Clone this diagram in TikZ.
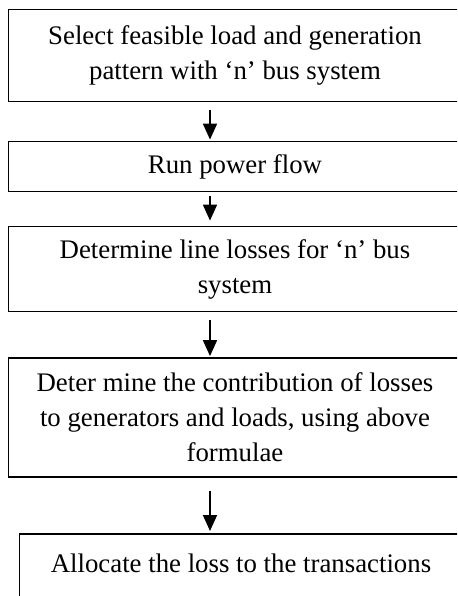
\documentclass[tikz,border=0pt]{standalone}
\usepackage{fontspec}
\setmainfont{Liberation Serif}
\usetikzlibrary{arrows.meta}

\begin{document}
\begin{tikzpicture}[x=0.5pt, y=-0.5pt,
    box/.style={align=center, inner sep=0pt,
        font=\fontsize{13.4}{17.5}\selectfont},
    frame/.style={draw=black, line width=0.8pt},
    arrow/.style={-{Triangle[width=7pt,length=8pt]}, line width=0.9pt}]
    \useasboundingbox (0,0) rectangle (457,596);
    \clip (0,0) rectangle (457,596);
    \coordinate (axis) at (210,0);

    \node[
        box,
        minimum width=226pt,
        minimum height=45.5pt]
        (select) at (235,55.5) {Select feasible load and generation\\pattern with ‘n’ bus system};
    \node[
        box,
        minimum width=226pt,
        minimum height=24.5pt]
        (power) at (235,166.5) {Run power flow};
    \node[
        box,
        minimum width=226pt,
        minimum height=42pt]
        (losses) at (235,269) {Determine line losses for ‘n’ bus\\system};
    \node[
        box,
        minimum width=226pt,
        minimum height=59pt]
        (contrib) at (235,417.5) {Deter mine the contribution of losses\\to generators and loads, using above\\formulae};
    \node[
        box,
        anchor=north,
        minimum width=221pt,
        minimum height=52pt]
        (alloc) at (241,534) {Allocate the loss to the transactions\\\strut};

    % frames run on past the right edge
    \foreach \n in {select,power,losses,contrib,alloc}
        \draw[frame] (\n.north west) rectangle ([xshift=12pt]\n.south east);

    \draw[arrow, shorten <=4.5pt, shorten >=1pt] (select.south -| axis) -- (power.north -| axis);
    \draw[arrow, shorten <=2.5pt, shorten >=3pt] (power.south -| axis) -- (losses.north -| axis);
    \draw[arrow, shorten <=4.5pt, shorten >=1pt] (losses.south -| axis) -- (contrib.north -| axis);
    \draw[arrow, shorten <=7pt, shorten >=1.5pt] (contrib.south -| axis) -- (alloc.north -| axis);
\end{tikzpicture}
\end{document}
